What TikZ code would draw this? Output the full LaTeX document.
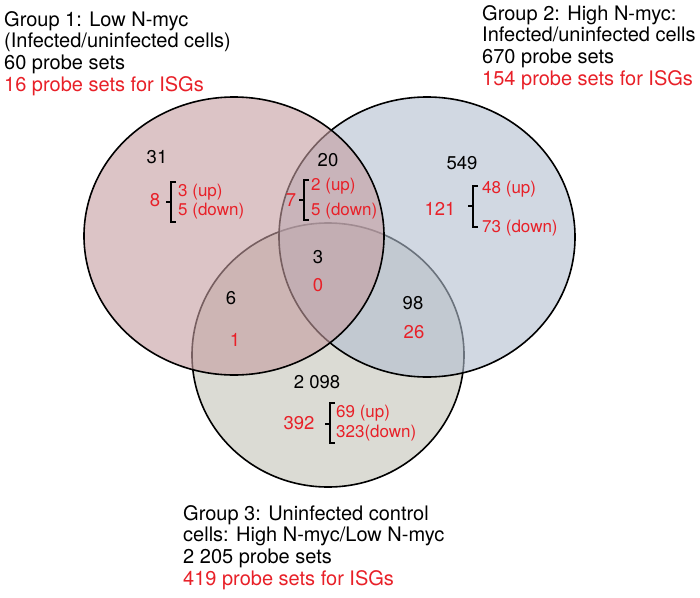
\documentclass[tikz,border=0pt]{standalone}
\usepackage{fontspec}
\setmainfont{TeX Gyre Heros}
\usepackage{tikz}
\usetikzlibrary{positioning}
\definecolor{lowmyc}{RGB}{197,157,160}
\definecolor{highmyc}{RGB}{178,190,207}
\definecolor{control}{RGB}{195,195,183}
\definecolor{isgred}{RGB}{232,32,40}

\begin{document}
\begin{tikzpicture}[
  x=1pt,y=-1pt,
  venn/.style={draw=black,line width=1.6pt,fill opacity=0.6},
  group/.style={align=left,anchor=north west,inner sep=0pt,
    font=\fontsize{20}{21.8}\selectfont},
  count/.style={inner sep=0pt,font=\fontsize{18.5}{20}\selectfont},
  isg/.style={count,text=isgred},
  updown/.style={isg,anchor=west,font=\fontsize{17}{19}\selectfont},
  brace/.style={line width=2.4pt}
]
\useasboundingbox (0,0) rectangle (700,597);

% the three groups, control at the bottom
\draw[venn,fill=control] (328,355) ellipse [x radius=136, y radius=132];
\draw[venn,fill=highmyc] (427,237) ellipse [x radius=148, y radius=140];
\draw[venn,fill=lowmyc] (234,236) ellipse [x radius=150, y radius=139];

% group captions
\node[group] (G1) at (4,11)
  {Group 1: Low N-myc\\(Infected/uninfected cells)\\60 probe sets\\
   \textcolor{isgred}{16 probe sets for ISGs}};
\node[group] (G2) at (482,5)
  {Group 2: High N-myc:\\Infected/uninfected cells\\670 probe sets\\
   \textcolor{isgred}{154 probe sets for ISGs}};
\node[group] (G3) at (183,505)
  {Group 3: Uninfected control\\cells: High N-myc/Low N-myc\\2 205 probe sets\\
   \textcolor{isgred}{419 probe sets for ISGs}};

% group 1 only
\node[count] (n1) at (157,157) {31};
\node[isg] (i1) at (155,200) {8};
\draw[brace] (176,182) -- (171,182) -- (171,222) -- (176,222);
\draw[brace] (166,202) -- (171,202);
\node[updown] (u1) at (178,192) {3 (up)};
\node[updown] (d1) at (178,211) {5 (down)};

% groups 1 and 2
\node[count] (n12) at (328,160) {20};
\node[isg] (i12) at (291,200) {7};
\draw[brace] (309,180) -- (304,180) -- (304,220) -- (309,220);
\draw[brace] (299,200) -- (304,200);
\node[updown] (u12) at (311,186) {2 (up)};
\node[updown] (d12) at (311,211) {5 (down)};

% group 2 only
\node[count] (n2) at (462,163) {549};
\node[isg] (i2) at (440,209) {121};
\draw[brace] (478,186) -- (473,186) -- (473,227) -- (478,227);
\draw[brace] (468,206) -- (473,206);
\node[updown] (u2) at (482,189) {48 (up)};
\node[updown] (d2) at (482,228) {73 (down)};

% all three
\node[count] (n123) at (318,257) {3};
\node[isg] (i123) at (318,285) {0};

% groups 1 and 3
\node[count] (n13) at (231,298) {6};
\node[isg] (i13) at (235,340) {1};

% groups 2 and 3
\node[count] (n23) at (413,303) {98};
\node[isg] (i23) at (414,332) {26};

% group 3 only
\node[count] (n3) at (317,382) {2 098};
\node[isg] (i3) at (299,423) {392};
\draw[brace] (335,403) -- (330,403) -- (330,443) -- (335,443);
\draw[brace] (325,424) -- (330,424);
\node[updown] (u3) at (336,413) {69 (up)};
\node[updown] (d3) at (336,433) {323(down)};

\end{tikzpicture}
\end{document}
